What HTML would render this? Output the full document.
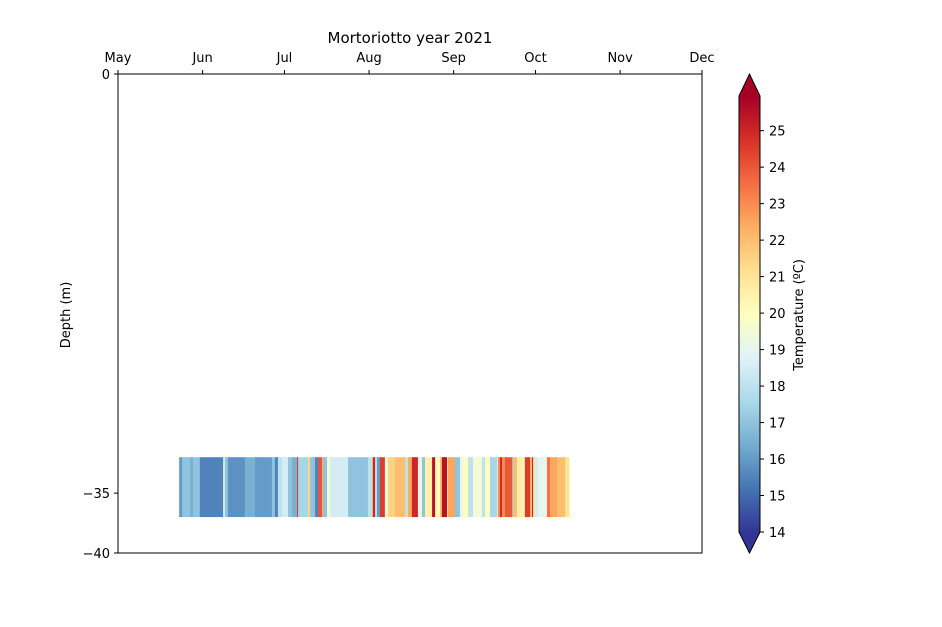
<!DOCTYPE html>
<html><head><meta charset="utf-8"><style>
body{margin:0;background:#fff;font-family:"Liberation Sans","DejaVu Sans",sans-serif;}
svg text{font-family:"DejaVu Sans","Liberation Sans",sans-serif;}
</style></head><body>
<svg id="chart" width="942" height="622" xmlns="http://www.w3.org/2000/svg">
<rect width="942" height="622" fill="#fff"/>
<text x="410" y="43" font-size="15" text-anchor="middle">Mortoriotto year 2021</text>
<g id="strip"></g>
<g id="axes"></g>
<text transform="translate(70,315) rotate(-90)" font-size="13" text-anchor="middle">Depth (m)</text>
<defs><linearGradient id="cgrad" x1="0" y1="1" x2="0" y2="0"></linearGradient></defs>
<g id="cbar"></g>
<text transform="translate(803,315) rotate(-90)" font-size="13" text-anchor="middle">Temperature (ºC)</text>
</svg>
<script>
const monthLabels=["May","Jun","Jul","Aug","Sep","Oct","Nov","Dec"];
const monthDays=[0,31,61,92,123,153,184,214];
const depthTicks=[0,-35,-40];
const startDays=[22.4,23.5,26.4,27.5,30.0,38.5,39.2,40.3,46.5,50.2,56.4,57.5,58.6,60.1,62.3,63.8,65.6,66.0,69.6,70.4,72.2,73.3,74.8,75.1,76.6,77.7,84.3,91.6,93.1,93.4,94.2,94.9,96.0,97.8,98.9,101.5,105.2,106.3,107.7,109.9,111.4,112.5,115.1,116.2,118.0,118.7,120.6,120.9,123.5,125.3,126.4,128.3,130.1,133.4,134.5,136.3,138.9,139.2,140.0,140.7,141.8,144.4,144.7,146.2,149.1,151.0,151.7,152.1,152.8,153.9,157.2,158.3,160.9,163.8];
const temps=[16,17,16.5,17,15.5,18.5,17,15.8,16.5,16,17,15.5,18,18.5,17,16.5,24.5,17.5,21.5,17,15.5,24,22,17,19.5,18.5,17,18,22,25,18,16,24.5,19.5,21.5,22,18,22.5,25,19,17,20.5,25.5,20,22,25.5,20,22.5,17,19,20,18,19.5,18,20,17.5,19,23,25,23,24,17,22,20.5,24.5,22,25,21,18.5,19,23.5,22.5,22,21];
const endDay=165.3;
const depthTop=-32, depthBottom=-37;
const cbTicks=[14,15,16,17,18,19,20,21,22,23,24,25];
const vmin=14,vmax=25.95;
const NS="http://www.w3.org/2000/svg";
const X0=118,X1=702,Y0=74,Y1=553;
const xs=d=>X0+(d/214)*(X1-X0);
const ys=v=>Y0+(0-v)/40*(Y1-Y0);
const stops=["#313695","#4575b4","#74add1","#abd9e9","#e0f3f8","#ffffbf","#fee090","#fdae61","#f46d43","#d73027","#a50026"];
function hex(c){return [1,3,5].map(i=>parseInt(c.substr(i,2),16));}
function cmap(v){let t=Math.max(0,Math.min(1,(v-vmin)/(vmax-vmin)))*(stops.length-1);let i=Math.min(Math.floor(t),stops.length-2),f=t-i;
const a=hex(stops[i]),b=hex(stops[i+1]);return "rgb("+a.map((x,k)=>Math.round(x+(b[k]-x)*f)).join(",")+")";}
function mk(tag,attrs,parent){const e=document.createElementNS(NS,tag);for(const k in attrs)e.setAttribute(k,attrs[k]);parent.appendChild(e);return e;}
const strip=document.getElementById("strip");
for(let i=0;i<temps.length;i++){
 const s=startDays[i],e=i<temps.length-1?startDays[i+1]:endDay;
 const r=mk("rect",{x:xs(s),y:ys(depthTop),width:xs(e)-xs(s)+0.4,height:ys(depthBottom)-ys(depthTop),fill:cmap(temps[i])},strip);
 
 
}
const ax=document.getElementById("axes");
mk("rect",{x:X0,y:Y0,width:X1-X0,height:Y1-Y0,fill:"none",stroke:"#000","stroke-width":1},ax);
monthDays.forEach((d,i)=>{const x=xs(d);
 mk("line",{x1:x,x2:x,y1:Y0,y2:Y0-4,stroke:"#000"},ax);
 const t=mk("text",{x:x,y:Y0-12,"font-size":13,"text-anchor":"middle"},ax);t.textContent=monthLabels[i];
 
 
});
depthTicks.forEach(v=>{const y=ys(v);
 mk("line",{x1:X0,x2:X0-4,y1:y,y2:y,stroke:"#000"},ax);
 const t=mk("text",{x:X0-8,y:y+5,"font-size":13,"text-anchor":"end"},ax);t.textContent=String(v).replace("-","\u2212");
 
 
});
const g=document.getElementById("cgrad");
stops.forEach((c,i)=>mk("stop",{offset:(i/(stops.length-1)),"stop-color":c},g));
const cb=document.getElementById("cbar");
const CX0=739,CX1=760,CT=96,CB=532;
const cy=v=>CB-(v-vmin)/(vmax-vmin)*(CB-CT);
mk("rect",{x:CX0,y:CT,width:CX1-CX0,height:CB-CT,fill:"url(#cgrad)"},cb);
mk("polygon",{points:`${CX0},${CT} ${(CX0+CX1)/2},74 ${CX1},${CT}`,fill:stops[10]},cb);
mk("polygon",{points:`${CX0},${CB} ${(CX0+CX1)/2},553 ${CX1},${CB}`,fill:stops[0]},cb);
mk("polygon",{points:`${CX0},${CB} ${CX0},${CT} ${(CX0+CX1)/2},74 ${CX1},${CT} ${CX1},${CB} ${(CX0+CX1)/2},553`,fill:"none",stroke:"#000","stroke-width":1},cb);
cbTicks.forEach(v=>{const y=cy(v);
 mk("line",{x1:CX1,x2:CX1+4,y1:y,y2:y,stroke:"#000"},cb);
 const t=mk("text",{x:CX1+9,y:y+5,"font-size":13},cb);t.textContent=v;
 
 
});
</script>
</body></html>
